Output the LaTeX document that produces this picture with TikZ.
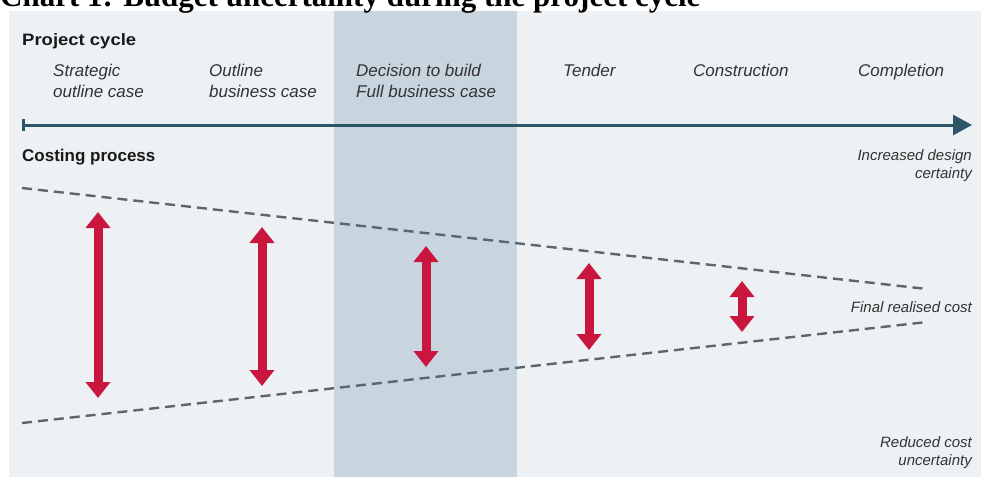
\documentclass[tikz,border=0pt]{standalone}
\usepackage{fontspec}
\setmainfont{Liberation Sans}
\newfontfamily\titlefont{Liberation Serif}
\newfontfamily\headfont[FakeStretch=1.12]{Liberation Sans}
\usetikzlibrary{arrows.meta}
\definecolor{bgc}{HTML}{EDF1F4}
\definecolor{bandc}{HTML}{C8D4DE}
\definecolor{axisc}{HTML}{2D5568}
\definecolor{dashc}{HTML}{5C6670}
\definecolor{redc}{HTML}{C8163F}
\definecolor{txtc}{HTML}{333333}
\tikzset{
  phase/.style={anchor=base west, inner sep=0pt, align=left, text=txtc,
    font=\fontsize{17}{21}\selectfont\itshape},
  note/.style={anchor=base east, inner sep=0pt, align=right, text=txtc,
    font=\fontsize{15}{18}\selectfont\itshape},
  head/.style={anchor=base west, inner sep=0pt, text=black!90,
    font=\headfont\bfseries\fontsize{16.5}{20}\selectfont},
  head2/.style={anchor=base west, inner sep=0pt, text=black!90,
    font=\bfseries\fontsize{17}{20}\selectfont},
  dashline/.style={draw=dashc, line width=2.4pt, dash pattern=on 10pt off 6pt},
  redarrow/.style={draw=redc, line width=9pt,
    {Triangle[width=24pt,length=16pt]}-{Triangle[width=24pt,length=16pt]}},
  axisarrow/.style={draw=axisc, line width=3pt,
    {Bar[width=12pt,line width=3pt]}-{Triangle[width=20pt,length=19pt]}}
}
\begin{document}
\begin{tikzpicture}[x=1pt,y=-1pt]
\useasboundingbox (0,0) rectangle (981,477);
\fill[bgc] (9,11) rectangle (981,477);
\fill[bandc] (334,11) rectangle (517,477);
\node[anchor=base west, inner sep=0pt, font=\titlefont\bfseries\fontsize{31}{34}\selectfont] (title) at (0,6) {Chart 1: Budget uncertainty during the project cycle};
\node[head] (pc) at (22,45) {Project cycle};
\node[phase] (p1) at (53,97) {Strategic\\outline case};
\node[phase] (p2) at (209,97) {Outline\\business case};
\node[phase] (p3) at (356,97) {Decision to build\\Full business case};
\node[phase] (p4) at (563,76) {Tender};
\node[phase] (p5) at (693,76) {Construction};
\node[phase] (p6) at (858,76) {Completion};
\coordinate (axs) at (22,125);
\coordinate (axe) at (972,125);
\draw[axisarrow] (axs) -- (axe);
\node[head2] (cp) at (22,161) {Costing process};
\node[note] (n1) at (972,178) {Increased design\\certainty};
\node[note] (n2) at (972,312) {Final realised cost};
\node[note] (n3) at (972,465) {Reduced cost\\uncertainty};
\coordinate (u1) at (22,188);
\coordinate (u2) at (927,289);
\coordinate (l1) at (22,423);
\coordinate (l2) at (927,322);
\draw[dashline] (u1) -- (u2);
\draw[dashline] (l1) -- (l2);
\coordinate (a1t) at (98,212);
\coordinate (a1b) at (98,398);
\coordinate (a2t) at (262,227);
\coordinate (a2b) at (262,386);
\coordinate (a3t) at (426,246);
\coordinate (a3b) at (426,367);
\coordinate (a4t) at (589,263);
\coordinate (a4b) at (589,350);
\coordinate (a5t) at (742,281);
\coordinate (a5b) at (742,332);
\draw[redarrow] (a1t) -- (a1b);
\draw[redarrow] (a2t) -- (a2b);
\draw[redarrow] (a3t) -- (a3b);
\draw[redarrow] (a4t) -- (a4b);
\draw[redarrow] (a5t) -- (a5b);
\end{tikzpicture}
\end{document}
